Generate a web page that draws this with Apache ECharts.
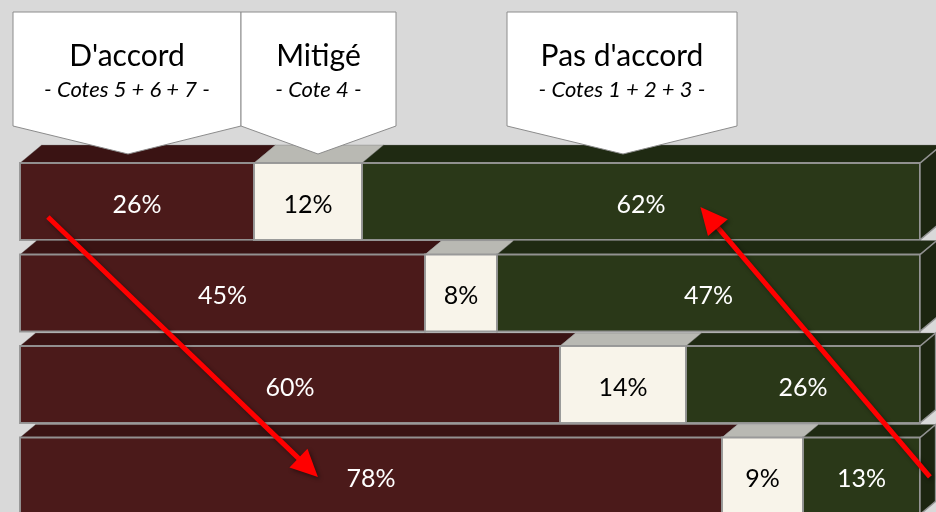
<!DOCTYPE html>
<html>
<head>
<meta charset="utf-8">
<script src="https://cdn.jsdelivr.net/npm/echarts@6/dist/echarts.min.js"></script>
<style>
  html, body { margin: 0; padding: 0; background: #d9d9d9; }
  #chart { width: 936px; height: 512px; }
</style>
</head>
<body>
<div id="chart"></div>
<script>
// Survey answers per question row, in percent
const rows = [0, 1, 2, 3];
const agree = [26, 45, 60, 78];      // Cotes 5 + 6 + 7
const mixed = [12, 8, 14, 9];        // Cote 4
const disagree = [62, 47, 26, 13];   // Cotes 1 + 2 + 3

const groupTitles = ["D'accord", 'Mitigé', "Pas d'accord"];
const groupSubtitles = ['- Cotes 5 + 6 + 7 -', '- Cote 4 -', '- Cotes 1 + 2 + 3 -'];

const FONT = 'Lato, "Open Sans", sans-serif';
const EDGE = 'rgba(150,150,150,0.95)';

// Row pitch in pixels; the last row runs off the bottom edge
const GRID_TOP = 155.75;
const ROW_PITCH = 91.5;
const Y_MIN = -0.5;
const Y_MAX = Y_MIN + (512 - GRID_TOP) / ROW_PITCH;

// [start, value, row] triples for each stacked segment
function stackData(values, offsets) {
  return rows.map((r, i) => [offsets[i], values[i], r]);
}
const agreeStart = rows.map(() => 0);
const mixedStart = rows.map((r, i) => agree[i]);
const disagreeStart = rows.map((r, i) => agree[i] + mixed[i]);

// Draws one segment as a box: front face, top face and (for the last one) the end face
function boxRenderer(front, top, side, textColor, withEnd) {
  return function (params, api) {
    const start = api.value(0), val = api.value(1), row = api.value(2);
    const p0 = api.coord([start, row]);
    const p1 = api.coord([start + val, row]);
    const band = api.size([0, 1])[1];
    const h = band * 0.84;
    const yt = p0[1] - h / 2, yb = p0[1] + h / 2;
    const dy = Math.max(13, 18 - 4 * row);
    const dx = dy * 1.2;
    const x0 = p0[0], x1 = p1[0];
    const children = [
      {
        type: 'polygon',
        shape: { points: [[x0, yt], [x0 + dx, yt - dy], [x1 + dx, yt - dy], [x1, yt]] },
        style: { fill: top, stroke: 'rgba(120,120,120,0.35)', lineWidth: 1 }
      },
      {
        type: 'rect',
        shape: { x: x0, y: yt, width: x1 - x0, height: h },
        style: { fill: front, stroke: EDGE, lineWidth: 2 }
      }
    ];
    if (withEnd) {
      children.push({
        type: 'polygon',
        shape: { points: [[x1, yt], [x1 + dx, yt - dy], [x1 + dx, yb - dy], [x1, yb]] },
        style: { fill: side, stroke: EDGE, lineWidth: 1.5 }
      });
    }
    children.push({
      type: 'text',
      style: {
        text: val + '%',
        x: (x0 + x1) / 2,
        y: p0[1] + 3,
        textAlign: 'center',
        textVerticalAlign: 'middle',
        fill: textColor,
        font: '25px ' + FONT
      }
    });
    return { type: 'group', children: children };
  };
}

const chart = echarts.init(document.getElementById('chart'));

chart.setOption({
  backgroundColor: '#d9d9d9',
  animation: false,
  grid: { left: 20, right: 16, top: GRID_TOP, bottom: 0 },
  xAxis: { type: 'value', min: 0, max: 100, show: false },
  yAxis: { type: 'value', min: Y_MIN, max: Y_MAX, inverse: true, show: false },
  series: [
    {
      name: groupTitles[0], type: 'custom', clip: false,
      renderItem: boxRenderer('#4b1a1a', '#3a1313', '#3a1313', '#ffffff', false),
      data: stackData(agree, agreeStart), encode: { x: [0, 1], y: 2 }
    },
    {
      name: groupTitles[1], type: 'custom', clip: false,
      renderItem: boxRenderer('#f8f4ea', '#b9b9b3', '#b9b9b3', '#000000', false),
      data: stackData(mixed, mixedStart), encode: { x: [0, 1], y: 2 }
    },
    {
      name: groupTitles[2], type: 'custom', clip: false,
      renderItem: boxRenderer('#2a3818', '#1f2a12', '#1c2510', '#ffffff', true),
      data: stackData(disagree, disagreeStart), encode: { x: [0, 1], y: 2 }
    }
  ]
});

// Callout headers above the first row
function callout(left, right, tipX, title, subtitle) {
  const topY = 12, baseY = 126, tipY = 154;
  const cx = (left + right) / 2;
  return {
    type: 'group', z: 100,
    children: [
      {
        type: 'polygon', z: 100,
        shape: { points: [[left, topY], [right, topY], [right, baseY], [tipX, tipY], [left, baseY]] },
        style: { fill: '#ffffff', stroke: '#8c8c8c', lineWidth: 1 }
      },
      {
        type: 'text', z: 101,
        style: { text: title, x: cx, y: 56, textAlign: 'center', textVerticalAlign: 'middle',
                 fill: '#000000', font: '30px ' + FONT }
      },
      {
        type: 'text', z: 101,
        style: { text: subtitle, x: cx, y: 90, textAlign: 'center', textVerticalAlign: 'middle',
                 fill: '#000000', font: 'italic 22px ' + FONT }
      }
    ]
  };
}

// Trend arrows, anchored in data space
function arrow(from, to) {
  const a = chart.convertToPixel({ gridIndex: 0 }, from);
  const b = chart.convertToPixel({ gridIndex: 0 }, to);
  const vx = b[0] - a[0], vy = b[1] - a[1];
  const len = Math.sqrt(vx * vx + vy * vy);
  const ux = vx / len, uy = vy / len;
  const headLen = 27, headHalf = 13;
  const bx = b[0] - ux * headLen, by = b[1] - uy * headLen;
  const shadow = { shadowBlur: 4, shadowColor: 'rgba(0,0,0,0.45)', shadowOffsetX: 2, shadowOffsetY: 2 };
  return {
    type: 'group', z: 110,
    children: [
      {
        type: 'line', z: 110,
        shape: { x1: a[0], y1: a[1], x2: bx + ux * 2, y2: by + uy * 2 },
        style: Object.assign({ stroke: '#ff0000', lineWidth: 5 }, shadow)
      },
      {
        type: 'polygon', z: 111,
        shape: { points: [[b[0], b[1]], [bx - uy * headHalf, by + ux * headHalf], [bx + uy * headHalf, by - ux * headHalf]] },
        style: Object.assign({ fill: '#ff0000' }, shadow)
      }
    ]
  };
}

chart.setOption({
  graphic: [
    callout(13, 241, 128, groupTitles[0], groupSubtitles[0]),
    callout(241, 396, 318, groupTitles[1], groupSubtitles[1]),
    callout(507, 737, 623, groupTitles[2], groupSubtitles[2]),
    arrow([3.1, 0.17], [33.1, 3.01]),
    arrow([101.1, 3.01], [75.6, 0.06])
  ]
});
</script>
</body>
</html>
